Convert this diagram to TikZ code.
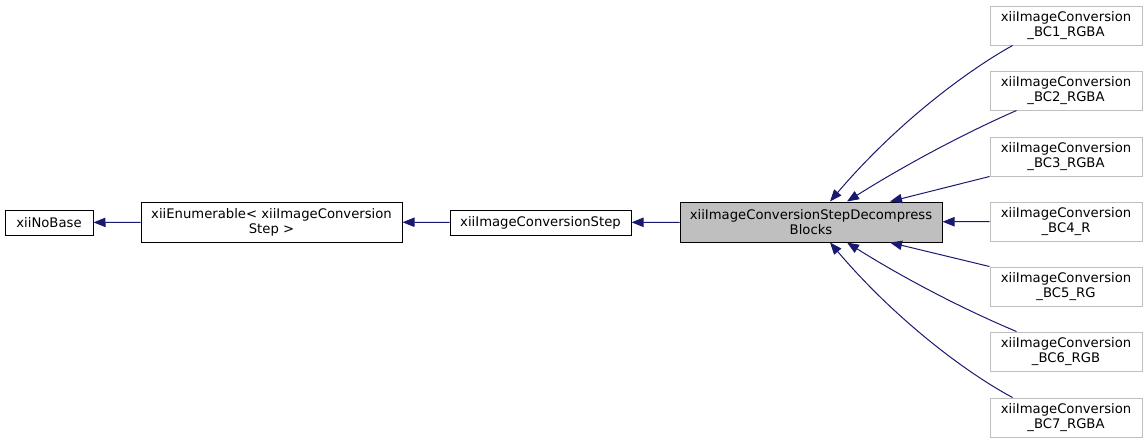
\documentclass[tikz,border=0pt]{standalone}
\usepackage{fontspec}
\setmainfont{DejaVu Sans}
\usetikzlibrary{arrows.meta,positioning,calc}

\definecolor{edgeblue}{HTML}{191970}
\definecolor{lightframe}{HTML}{BFBFBF}

\tikzset{
  classbox/.style={draw=black, line width=0.75pt, inner sep=0pt, align=center,
    font=\fontsize{9.9}{11.3}\selectfont},
  smallbox/.style={classbox, minimum height=18.75pt},
  bigbox/.style={classbox, minimum height=30pt},
  leafbox/.style={classbox, draw=lightframe, minimum width=114pt, minimum height=29.25pt},
  inherit/.style={draw=edgeblue, line width=0.75pt,
    -{Triangle[length=9pt,width=7pt]}, fill=none},
}

\begin{document}
\begin{tikzpicture}[x=0.75pt, y=-0.75pt]
  \useasboundingbox (0,0) rectangle (1148,444);

  % base chain
  \node[smallbox, minimum width=66pt] (nobase) at (49,222.5) {xiiNoBase};
  \node[bigbox, minimum width=195.75pt] (enumer) at (271.5,222) {xiiEnumerable< xiiImageConversion\\Step >};
  \node[smallbox, minimum width=135.75pt] (step) at (540.5,222.5) {xiiImageConversionStep};
  \node[bigbox, fill=lightframe, minimum width=196.5pt] (decomp) at (811,222) {xiiImageConversionStepDecompress\\Blocks};

  % derived classes
  \node[leafbox] (bc1) at (1066,25.5)  {xiiImageConversion\\\_BC1\_RGBA};
  \node[leafbox] (bc2) at (1066,90.5)  {xiiImageConversion\\\_BC2\_RGBA};
  \node[leafbox] (bc3) at (1066,156.5) {xiiImageConversion\\\_BC3\_RGBA};
  \node[leafbox] (bc4) at (1066,221.5) {xiiImageConversion\\\_BC4\_R};
  \node[leafbox] (bc5) at (1066,286.5) {xiiImageConversion\\\_BC5\_RG};
  \node[leafbox] (bc6) at (1066,351.5) {xiiImageConversion\\\_BC6\_RGB};
  \node[leafbox] (bc7) at (1066,417.5) {xiiImageConversion\\\_BC7\_RGBA};

  \draw[inherit] (enumer) -- (nobase);
  \draw[inherit] (step) -- (enumer);
  \draw[inherit] (decomp) -- (step);
  \draw[inherit] (bc4) -- (decomp);

  \draw[inherit] ($(bc1.south west)+(23,0)$) .. controls (965,72) and (895,125) .. ($(decomp.north)+(19,0)$);
  \draw[inherit] ($(bc2.south west)+(27,0)$) .. controls (965,133) and (905,165) .. ($(decomp.north)+(36,0)$);
  \draw[inherit] (bc3.south west) -- ($(decomp.north)+(79,0)$);
  \draw[inherit] (bc5.north west) -- ($(decomp.south)+(79,0)$);
  \draw[inherit] ($(bc6.north west)+(27,0)$) .. controls (965,310) and (905,279) .. ($(decomp.south)+(36,0)$);
  \draw[inherit] ($(bc7.north west)+(23,0)$) .. controls (965,372) and (895,319) .. ($(decomp.south)+(19,0)$);
\end{tikzpicture}
\end{document}
